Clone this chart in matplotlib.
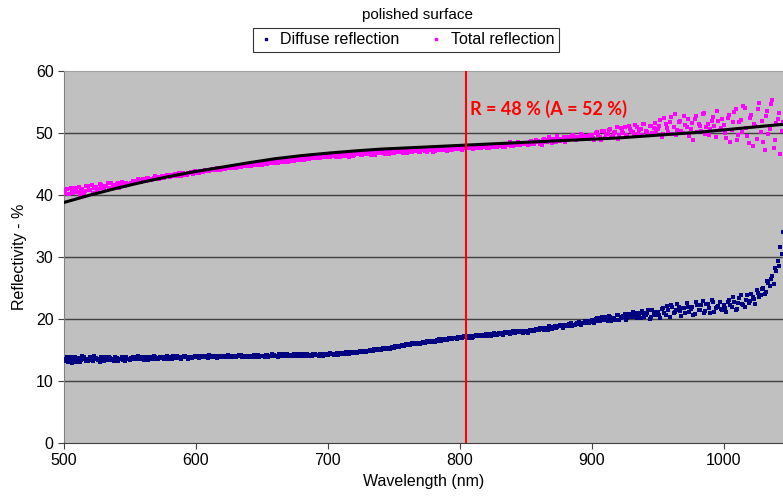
import numpy as np
import matplotlib.pyplot as plt
from matplotlib.lines import Line2D

# spectrometer readings: even and odd wavelengths (nm)
wl_even = np.arange(500, 1046, 2)
wl_odd = np.arange(501, 1046, 2)

diffuse_even = [
    13.2, 13.9, 13.4, 12.9, 13.8, 13.5, 13.1, 14.0, 13.6, 13.3, 13.9, 13.2, 13.7, 13.4, 13.8, 13.3, 13.6, 13.9, 13.4, 13.2, 13.7, 13.5, 13.9, 13.3, 13.6,
    13.4, 13.8, 13.6, 14.0, 13.5, 13.7, 13.9, 13.4, 13.8, 14.1, 13.6, 13.7, 13.9, 13.5, 14.0, 13.8, 13.6, 13.9, 14.1, 13.7, 13.8, 14.0, 13.6, 13.9, 13.8,
    14.0, 13.7, 14.1, 13.9, 13.8, 14.2, 13.9, 14.0, 13.7, 14.1, 14.0, 13.8, 14.2, 13.9, 14.1, 13.8, 14.0, 14.2, 13.9, 14.0, 14.1, 13.8, 14.2, 14.0, 13.9,
    14.1, 13.9, 14.2, 14.0, 14.3, 14.1, 13.9, 14.2, 14.4, 14.0, 14.2, 14.1, 14.3, 14.0, 14.2, 14.4, 14.1, 14.3, 14.2, 14.0, 14.4, 14.2, 14.3, 14.1, 14.3,
    14.2, 14.5, 14.3, 14.4, 14.2, 14.5, 14.3, 14.6, 14.4, 14.5, 14.7, 14.5, 14.8, 14.6, 14.9, 14.8, 15.0, 14.9, 15.1, 15.2, 15.0, 15.3, 15.2, 15.4, 15.3,
    15.4, 15.6, 15.5, 15.8, 15.7, 15.9, 15.8, 16.1, 15.9, 16.2, 16.0, 16.3, 16.2, 16.4, 16.3, 16.5, 16.4, 16.7, 16.5, 16.8, 16.6, 16.9, 16.8, 17.0, 16.8,
    17.1, 16.9, 17.2, 17.0, 17.3, 17.1, 17.4, 17.2, 17.5, 17.3, 17.6, 17.4, 17.3, 17.7, 17.5, 17.8, 17.6, 17.9, 17.7, 17.6, 18.0, 17.8, 18.1, 17.9, 17.8,
    18.1, 17.8, 18.3, 18.0, 18.4, 18.2, 18.6, 18.3, 18.5, 18.8, 18.4, 18.9, 18.7, 19.0, 18.6, 19.1, 18.9, 19.3, 19.0, 19.2, 19.5, 19.1, 19.4, 19.6, 19.3,
    19.8, 19.4, 20.1, 19.7, 20.3, 19.9, 19.6, 20.4, 20.0, 19.8, 20.6, 20.1, 20.5, 19.9, 20.8, 20.3, 21.0, 20.2, 20.7, 21.3, 20.4, 20.9, 20.0, 21.5, 20.6,
    21.2, 20.2, 21.8, 20.7, 21.5, 22.3, 20.9, 21.4, 22.0, 20.5, 21.7, 22.6, 21.1, 21.9, 20.8, 22.2, 21.5, 22.9, 21.3, 22.4, 21.0, 22.7, 21.8, 22.1, 21.6,
    22.3, 21.2, 23.1, 22.0, 22.8, 21.6, 23.4, 22.5, 21.9, 23.8, 22.9, 23.5, 22.4, 24.2, 23.8, 25.0, 24.4, 25.8, 26.5, 25.6, 27.8, 28.6, 30.5,
]
diffuse_odd = [
    13.6, 13.1, 13.8, 13.3, 13.0, 13.7, 13.4, 13.8, 13.2, 13.6, 13.4, 14.0, 13.5, 13.1, 13.6, 13.9, 13.4, 13.7, 13.5, 13.8, 13.3, 13.6, 13.4, 13.8, 13.5,
    13.7, 13.5, 13.9, 13.6, 13.8, 13.4, 13.7, 13.9, 13.6, 13.8, 13.5, 13.9, 13.7, 13.8, 13.6, 13.9, 14.0, 13.7, 13.8, 13.6, 14.0, 13.8, 13.9, 13.7, 14.0,
    13.8, 14.0, 13.9, 14.1, 13.7, 14.0, 13.8, 14.1, 13.9, 13.8, 14.1, 14.0, 13.8, 14.1, 13.9, 14.0, 14.2, 13.9, 14.1, 13.8, 14.0, 14.1, 13.9, 14.2, 14.0,
    14.0, 14.2, 13.9, 14.1, 14.2, 14.0, 14.3, 14.1, 14.0, 14.3, 14.1, 14.2, 14.0, 14.3, 14.1, 14.2, 14.3, 14.1, 14.0, 14.3, 14.2, 14.1, 14.4, 14.2, 14.2,
    14.4, 14.3, 14.2, 14.5, 14.4, 14.3, 14.5, 14.4, 14.6, 14.5, 14.6, 14.7, 14.6, 14.8, 14.7, 14.9, 14.8, 15.1, 15.0, 15.1, 15.2, 15.1, 15.3, 15.2, 15.5,
    15.6, 15.5, 15.7, 15.6, 15.9, 15.8, 16.0, 15.9, 16.1, 16.0, 16.2, 16.1, 16.4, 16.3, 16.5, 16.3, 16.6, 16.5, 16.7, 16.6, 16.8, 16.7, 17.0, 16.9, 17.1,
    17.0, 17.2, 17.1, 17.2, 17.0, 17.3, 17.2, 17.4, 17.3, 17.5, 17.3, 17.6, 17.5, 17.4, 17.6, 17.7, 17.5, 17.8, 17.9, 17.7, 17.8, 18.0, 17.9, 18.1, 18.0,
    17.9, 18.2, 18.1, 18.3, 18.2, 18.5, 18.4, 18.6, 18.3, 18.7, 18.6, 18.5, 18.9, 18.8, 19.0, 18.8, 19.2, 18.9, 19.1, 19.4, 19.2, 19.3, 19.6, 19.4, 19.7,
    19.5, 20.0, 19.6, 20.2, 19.8, 20.3, 20.5, 19.7, 20.2, 20.6, 19.9, 20.4, 20.8, 20.2, 20.5, 21.1, 20.4, 20.9, 20.1, 21.0, 20.6, 21.4, 20.3, 20.8, 21.2,
    20.6, 21.6, 21.0, 22.1, 20.4, 21.9, 21.2, 22.5, 21.3, 21.8, 20.9, 22.0, 21.6, 20.6, 22.8, 21.4, 22.2, 20.9, 22.5, 21.7, 23.1, 21.2, 22.0, 22.8, 21.5,
    21.8, 22.7, 22.2, 23.5, 21.4, 22.6, 23.9, 22.2, 23.0, 22.6, 24.1, 23.2, 24.6, 23.5, 24.9, 24.0, 26.2, 25.3, 27.0, 28.2, 29.4, 31.6, 34.0,
]

total_even = [
    40.3, 40.9, 40.1, 40.7, 41.2, 40.5, 40.0, 41.0, 40.6, 41.4, 40.8, 40.4, 41.3, 40.9, 41.6, 41.0, 41.5, 41.1, 42.0, 41.3, 41.7, 41.2, 42.1, 41.5, 41.8,
    41.8, 42.2, 42.0, 42.5, 42.1, 42.6, 42.3, 42.8, 42.4, 42.7, 42.9, 42.5, 43.0, 42.8, 43.2, 42.9, 43.1, 43.4, 43.0, 43.3, 43.6, 43.2, 43.5, 43.7, 43.4,
    43.7, 43.5, 43.9, 43.8, 44.1, 43.9, 44.2, 44.0, 44.3, 44.1, 44.4, 44.2, 44.5, 44.3, 44.6, 44.4, 44.7, 44.5, 44.8, 44.6, 44.9, 44.7, 45.0, 44.8, 45.1,
    44.9, 45.2, 45.0, 45.3, 45.1, 45.4, 45.2, 45.5, 45.3, 45.6, 45.4, 45.7, 45.5, 45.8, 45.6, 45.9, 45.7, 46.0, 45.8, 46.1, 45.9, 46.2, 46.0, 46.3, 46.1,
    46.3, 46.1, 46.4, 46.2, 46.5, 46.3, 46.6, 46.4, 46.2, 46.7, 46.5, 46.8, 46.6, 46.4, 46.8, 46.6, 46.9, 46.7, 46.5, 46.9, 46.7, 47.0, 46.8, 46.6, 47.0,
    46.8, 47.1, 46.9, 47.2, 47.0, 46.7, 47.2, 47.0, 47.3, 47.1, 46.9, 47.3, 47.1, 47.4, 47.2, 47.0, 47.4, 47.2, 47.5, 47.3, 47.1, 47.5, 47.3, 47.6, 47.4,
    47.6, 47.3, 47.7, 47.5, 47.8, 47.4, 47.7, 47.9, 47.5, 47.8, 48.0, 47.6, 47.9, 48.1, 47.7, 48.0, 48.3, 47.8, 48.1, 48.5, 47.9, 48.2, 48.6, 48.0, 48.3,
    48.4, 48.0, 48.7, 48.2, 48.9, 48.5, 48.1, 49.0, 48.6, 49.3, 48.4, 48.8, 49.5, 48.7, 49.1, 48.5, 49.4, 49.0, 49.7, 48.8, 49.2, 49.8, 49.0, 49.5, 49.1,
    49.6, 48.9, 50.1, 49.4, 50.4, 49.2, 49.9, 50.7, 49.5, 50.2, 49.1, 50.8, 50.0, 49.6, 51.2, 50.3, 49.8, 51.0, 50.5, 49.7, 51.4, 50.2, 51.1, 50.0, 51.6,
    50.6, 52.1, 49.8, 51.4, 50.2, 52.5, 51.0, 49.6, 51.8, 50.4, 52.8, 50.9, 49.5, 51.6, 52.3, 50.1, 51.2, 53.0, 49.9, 51.5, 50.7, 52.6, 49.4, 51.9, 50.8,
    51.3, 49.2, 52.9, 50.5, 53.4, 48.8, 51.8, 50.1, 54.0, 49.5, 52.4, 47.9, 51.1, 53.8, 50.2, 48.6, 52.7, 49.8, 54.6, 47.5, 51.6, 53.2, 50.4,
]
total_odd = [
    40.8, 40.2, 41.1, 40.4, 40.9, 41.3, 40.6, 40.3, 41.4, 40.8, 41.6, 41.1, 40.7, 41.8, 41.2, 41.4, 41.9, 41.0, 41.6, 41.4, 41.9, 41.6, 41.4, 42.0, 41.7,
    42.0, 41.9, 42.3, 42.2, 42.4, 42.3, 42.7, 42.5, 42.6, 43.0, 42.7, 42.9, 42.8, 43.1, 43.0, 43.3, 43.0, 43.2, 43.5, 43.1, 43.4, 43.3, 43.6, 43.5, 43.8,
    43.6, 43.8, 43.7, 44.0, 43.8, 44.1, 44.0, 44.2, 44.1, 44.3, 44.2, 44.4, 44.3, 44.5, 44.4, 44.6, 44.5, 44.7, 44.6, 44.8, 44.7, 44.9, 44.8, 45.0, 44.9,
    45.1, 45.0, 45.2, 45.1, 45.3, 45.2, 45.4, 45.3, 45.5, 45.4, 45.6, 45.5, 45.7, 45.6, 45.8, 45.7, 45.9, 45.8, 46.0, 45.9, 46.1, 46.0, 46.2, 46.1, 46.2,
    46.2, 46.4, 46.3, 46.5, 46.1, 46.4, 46.3, 46.6, 46.5, 46.3, 46.6, 46.7, 46.4, 46.7, 46.6, 46.8, 46.5, 46.8, 46.7, 46.8, 46.9, 46.6, 46.9, 46.8, 46.9,
    47.0, 46.9, 47.1, 46.8, 47.1, 47.0, 46.9, 47.2, 47.1, 47.0, 47.2, 47.2, 47.0, 47.3, 47.3, 47.1, 47.3, 47.4, 47.2, 47.4, 47.3, 47.3, 47.5, 47.4, 47.6,
    47.4, 47.6, 47.5, 47.7, 47.6, 47.8, 47.5, 47.6, 47.8, 47.7, 47.6, 47.9, 47.8, 47.7, 48.0, 47.9, 47.8, 48.2, 48.0, 47.9, 48.3, 48.1, 48.0, 48.4, 48.2,
    48.2, 48.6, 48.3, 48.5, 48.7, 48.3, 48.8, 48.5, 48.9, 48.7, 49.1, 48.6, 49.0, 48.9, 49.3, 48.8, 49.2, 49.5, 49.1, 49.4, 49.0, 49.6, 49.3, 49.2, 49.7,
    49.2, 50.0, 49.7, 48.8, 50.3, 49.8, 50.5, 49.4, 50.0, 50.9, 49.7, 50.4, 51.0, 49.5, 50.6, 50.1, 51.3, 49.9, 50.7, 51.5, 50.3, 49.6, 51.2, 50.8, 50.2,
    51.2, 49.4, 52.4, 50.8, 51.7, 49.9, 53.1, 50.5, 51.9, 50.0, 51.3, 52.2, 50.6, 48.9, 52.7, 51.4, 50.3, 53.3, 50.9, 49.6, 52.0, 51.1, 53.6, 50.5, 52.2,
    50.0, 52.4, 48.5, 51.7, 53.9, 49.6, 52.1, 54.3, 50.8, 48.4, 52.9, 51.4, 49.1, 54.9, 51.9, 47.2, 53.5, 50.7, 55.3, 48.9, 52.3, 46.6, 51.8,
]

# trend line of total reflection
trend_wl = [500, 520, 540, 560, 580, 600, 620, 640, 660, 680, 700, 720, 740, 760, 780,
            800, 820, 840, 860, 880, 900, 920, 940, 960, 980, 1000, 1020, 1040, 1046]
trend_val = [38.8, 40.0, 41.1, 42.1, 43.0, 43.8, 44.5, 45.2, 45.85, 46.35, 46.75, 47.1, 47.4, 47.6, 47.8,
             48.0, 48.2, 48.4, 48.6, 48.8, 49.0, 49.2, 49.5, 49.8, 50.1, 50.5, 50.9, 51.3, 51.4]

marker_wl = 805
note = "R = 48 % (A = 52 %)"

plt.rcParams['font.family'] = ['Liberation Sans', 'DejaVu Sans']

fig = plt.figure(figsize=(7.83, 4.97), dpi=100)
ax = fig.add_axes([64 / 783, 54 / 497, 1 - 64 / 783, 372 / 497])
ax.set_facecolor('#C0C0C0')

wl = np.concatenate([wl_even, wl_odd])
diffuse = np.concatenate([diffuse_even, diffuse_odd])
total = np.concatenate([total_even, total_odd])

ax.scatter(wl, diffuse, s=7, marker='s', color='#000080', linewidths=0, zorder=3)
ax.scatter(wl, total, s=7, marker='s', color='#FF00FF', linewidths=0, zorder=3)
ax.plot(trend_wl, trend_val, color='black', lw=2.2, zorder=4)
ax.axvline(marker_wl, color='red', lw=1.5, zorder=5)
ax.text(808, 53.8, note, color='red', fontsize=13, fontweight='bold',
        family=['Lato', 'DejaVu Sans'], va='center', zorder=6)

ax.set_xlim(500, 1045)
ax.set_ylim(0, 60)
ax.set_xticks([500, 600, 700, 800, 900, 1000])
ax.set_yticks([0, 10, 20, 30, 40, 50, 60])
for v in [10, 20, 30, 40, 50]:
    ax.axhline(v, color='#404040', lw=1, zorder=1)

ax.spines['right'].set_visible(False)
ax.spines['top'].set_color('#A0A0A0')
ax.spines['left'].set_color('#808080')
ax.spines['bottom'].set_color('#404040')
ax.tick_params(axis='both', labelsize=11.5, length=4, color='#404040')

ax.set_xlabel("Wavelength (nm)", fontsize=11.5, labelpad=4)
ax.set_ylabel("Reflectivity - %", fontsize=11.5, labelpad=6)

fig.text(417 / 783, 1 - 15 / 497, "polished surface", ha='center', va='center', fontsize=11)
handles = [Line2D([], [], ls='none', marker='s', ms=2, color='#000080'),
           Line2D([], [], ls='none', marker='s', ms=2, color='#FF00FF')]
leg = fig.legend(handles, ["Diffuse reflection", "Total reflection"], ncol=2,
                 loc='center', bbox_to_anchor=(406 / 783, 1 - 40 / 497),
                 fontsize=11.5, frameon=True, fancybox=False, handlelength=1,
                 handletextpad=0.4, columnspacing=1.8, borderpad=0.3)
leg.get_frame().set_edgecolor('black')
leg.get_frame().set_linewidth(0.8)

fig.savefig("out.png", dpi=100)
